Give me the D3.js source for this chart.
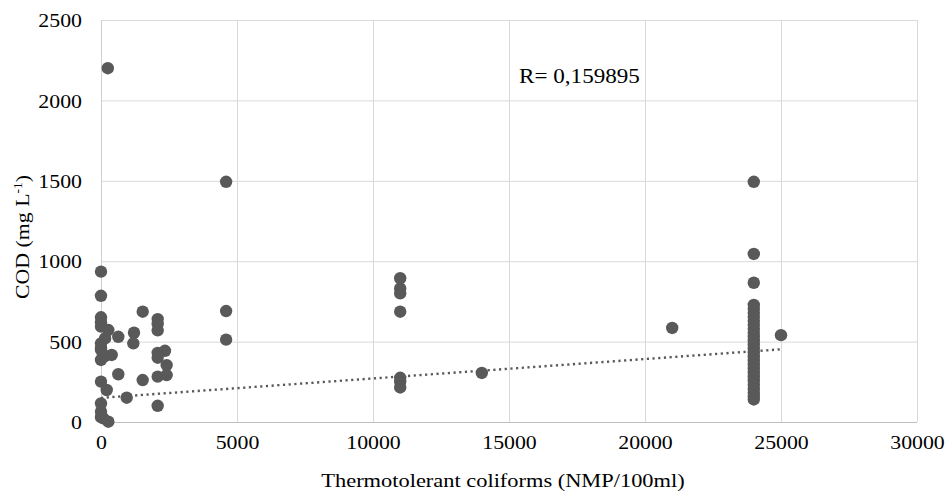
<!DOCTYPE html>
<html><head><meta charset="utf-8">
<script src="https://cdn.jsdelivr.net/npm/d3@7"></script>
<style>body{margin:0;background:#fff}svg{display:block}text{font-family:"Liberation Serif","Times New Roman",serif;fill:#000}</style>
</head><body><svg id="c" width="945" height="496"></svg>
<script>
// Data (Thermotolerant coliforms vs COD)
const cfX = [
  0,0,0,0,0,0,0,0,0,0,0,0,0,
  150,150,85,270,270,210,393,250,636,636,945,1188,1213,1533,1533,
  2084,2084,2084,2084,2084,2084,2084,2353,2414,2414,
  4600,4600,4600,
  11000,11000,11000,11000,11000,11000,11000,
  14000,21000,25000,
  24000,24000,24000,24000,24000,24000,24000,24000,24000,24000,24000,24000,24000,24000,
  24000,24000,24000,24000,24000,24000,24000,24000,24000,24000,24000,24000,24000,24000
];
const codY = [
  935,785,651,620,593,489,460,448,386,251,116,64,30,
  520,410,23,572,2,199,417,2200,530,297,151,489,555,686,261,
  640,610,570,430,400,282,101,443,354,292,
  1494,690,512,
  894,831,800,686,275,250,215,
  305,585,540,
  1494,1045,866,728,705,680,655,630,605,580,555,530,505,480,
  455,430,405,380,355,330,305,280,255,230,205,180,160,140
];
const xTicks = [0,5000,10000,15000,20000,25000,30000];
const yTicks = [0,500,1000,1500,2000,2500];
const trendX = [0,25000];
const trendY = [150,452];
const rLabel = "R= 0,159895";
const xTitle = "Thermotolerant coliforms (NMP/100ml)";

const svg = d3.select("#c");
const L=101,R=917,T=20,B=422, SX=1.18;
const x = d3.scaleLinear().domain([0,30000]).range([L,R]);
const y = d3.scaleLinear().domain([0,2500]).range([B,T]);

// gridlines
svg.append("g").attr("transform",`translate(0,${B})`)
  .call(d3.axisBottom(x).tickValues(xTicks).tickSize(-(B-T)).tickFormat(""))
  .call(g=>{g.select(".domain").remove();g.selectAll("line").attr("stroke","#d9d9d9").attr("stroke-width",1);});
svg.append("g").attr("transform",`translate(${L},0)`)
  .call(d3.axisLeft(y).tickValues(yTicks).tickSize(-(R-L)).tickFormat(""))
  .call(g=>{g.select(".domain").remove();g.selectAll("line").attr("stroke","#d9d9d9").attr("stroke-width",1);});
// axis lines
svg.append("line").attr("x1",L).attr("x2",R).attr("y1",B+0.5).attr("y2",B+0.5).attr("stroke","#bfbfbf");
svg.append("line").attr("x1",L+0.5).attr("x2",L+0.5).attr("y1",T).attr("y2",B).attr("stroke","#cfcfcf");

// tick labels
const xa = svg.append("g").attr("transform",`translate(0,${B})`)
  .call(d3.axisBottom(x).tickValues(xTicks).tickSize(0).tickPadding(0).tickFormat(d3.format("d")));
xa.select(".domain").remove();
xa.selectAll("text").attr("y",27).attr("dy",0).attr("font-size",18.5)
  .attr("font-family","'Liberation Serif',serif").attr("fill","#000").attr("transform",`scale(${SX},1)`);
const ya = svg.append("g").attr("transform",`translate(82,0)`)
  .call(d3.axisLeft(y).tickValues(yTicks).tickSize(0).tickPadding(0).tickFormat(d3.format("d")));
ya.select(".domain").remove();
ya.selectAll("text").attr("x",0).attr("dy","0.36em").attr("font-size",18.5)
  .attr("font-family","'Liberation Serif',serif").attr("fill","#000").attr("transform",`scale(${SX},1)`);

// axis titles
svg.append("text").attr("transform",`translate(503,487) scale(${SX},1)`).attr("text-anchor","middle")
  .attr("font-size",19).text(xTitle);
const yt = svg.append("text").attr("transform",`translate(29,237) rotate(-90) scale(1.12,1)`).attr("text-anchor","middle")
  .attr("font-size",19.5);
yt.append("tspan").text("COD (mg L");
yt.append("tspan").attr("font-size",12).attr("dy",-7).text("-1");
yt.append("tspan").attr("dy",7).text(")");

// trendline
svg.append("line").attr("x1",x(trendX[0])).attr("y1",y(trendY[0]))
  .attr("x2",x(trendX[1])).attr("y2",y(trendY[1]))
  .attr("stroke","#595959").attr("stroke-width",2.4).attr("stroke-dasharray","2.2,3.5");

// points
svg.append("g").selectAll("circle").data(cfX.map((v,i)=>[v,codY[i]])).join("circle")
  .attr("cx",d=>x(d[0])).attr("cy",d=>y(d[1])).attr("r",6.2).attr("fill","#595959");

// R label
svg.append("text").attr("transform",`translate(519,83) scale(${SX*0.98},1)`).attr("font-size",20).text(rLabel);
</script></body></html>
